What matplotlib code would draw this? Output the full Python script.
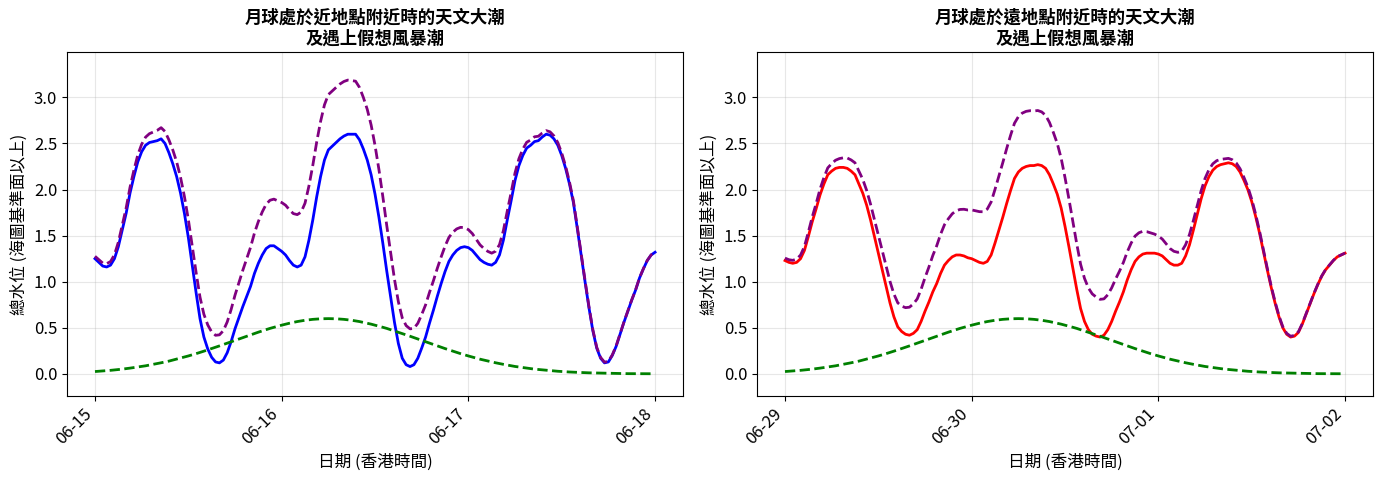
import matplotlib
matplotlib.use("Agg")
import matplotlib.pyplot as plt
import matplotlib.dates as mdates
import numpy as np
import pandas as pd

plt.rcParams['font.family'] = ['Noto Sans CJK TC', 'DejaVu Sans']

# Half-hourly values over three days (145 samples each)
perigee_start = "2024-06-15 00:00"
apogee_start = "2024-06-29 00:00"
step = "30min"

perigee_tide = [
    1.25, 1.21, 1.17, 1.16, 1.18, 1.25, 1.38, 1.56, 1.74, 1.96,
    2.14, 2.30, 2.41, 2.48, 2.51, 2.52, 2.53, 2.55, 2.50, 2.40,
    2.28, 2.14, 1.96, 1.74, 1.48, 1.18, 0.88, 0.60, 0.40, 0.27,
    0.18, 0.13, 0.12, 0.15, 0.23, 0.35, 0.49, 0.61, 0.73, 0.84,
    0.95, 1.09, 1.20, 1.29, 1.36, 1.39, 1.39, 1.36, 1.33, 1.29,
    1.23, 1.18, 1.16, 1.18, 1.27, 1.45, 1.67, 1.92, 2.14, 2.32,
    2.43, 2.47, 2.51, 2.55, 2.58, 2.60, 2.60, 2.60, 2.54, 2.44,
    2.32, 2.16, 1.95, 1.70, 1.42, 1.12, 0.84, 0.56, 0.33, 0.17,
    0.10, 0.08, 0.10, 0.17, 0.28, 0.40, 0.55, 0.69, 0.84, 0.98,
    1.11, 1.22, 1.29, 1.34, 1.37, 1.38, 1.37, 1.34, 1.29, 1.24,
    1.21, 1.19, 1.18, 1.21, 1.29, 1.45, 1.67, 1.88, 2.10, 2.26,
    2.37, 2.45, 2.48, 2.52, 2.53, 2.57, 2.60, 2.59, 2.55, 2.48,
    2.37, 2.23, 2.06, 1.86, 1.58, 1.29, 1.00, 0.72, 0.47, 0.28,
    0.17, 0.12, 0.13, 0.20, 0.30, 0.43, 0.56, 0.68, 0.80, 0.91,
    1.04, 1.14, 1.23, 1.29, 1.32]

apogee_tide = [
    1.23, 1.21, 1.20, 1.21, 1.25, 1.34, 1.49, 1.65, 1.79, 1.94,
    2.06, 2.16, 2.20, 2.23, 2.24, 2.24, 2.23, 2.20, 2.16, 2.06,
    1.96, 1.83, 1.67, 1.49, 1.31, 1.13, 0.95, 0.77, 0.62, 0.51,
    0.46, 0.43, 0.42, 0.44, 0.48, 0.57, 0.68, 0.78, 0.89, 0.98,
    1.09, 1.18, 1.23, 1.27, 1.29, 1.29, 1.28, 1.26, 1.25, 1.23,
    1.21, 1.20, 1.22, 1.29, 1.42, 1.56, 1.70, 1.85, 1.99, 2.12,
    2.19, 2.23, 2.25, 2.26, 2.26, 2.27, 2.26, 2.23, 2.16, 2.06,
    1.95, 1.80, 1.60, 1.38, 1.15, 0.92, 0.71, 0.57, 0.48, 0.43,
    0.41, 0.40, 0.42, 0.48, 0.57, 0.68, 0.78, 0.89, 1.02, 1.13,
    1.22, 1.27, 1.30, 1.31, 1.31, 1.31, 1.30, 1.28, 1.24, 1.20,
    1.18, 1.18, 1.20, 1.28, 1.40, 1.56, 1.73, 1.90, 2.04, 2.14,
    2.21, 2.25, 2.27, 2.28, 2.29, 2.28, 2.25, 2.19, 2.10, 2.00,
    1.87, 1.71, 1.53, 1.33, 1.13, 0.94, 0.77, 0.62, 0.50, 0.43,
    0.40, 0.41, 0.45, 0.54, 0.65, 0.76, 0.87, 0.97, 1.06, 1.13,
    1.18, 1.23, 1.27, 1.29, 1.31]

surge = [
    0.026, 0.029, 0.032, 0.036, 0.039, 0.043, 0.048, 0.052, 0.057, 0.063,
    0.069, 0.075, 0.081, 0.088, 0.096, 0.104, 0.112, 0.121, 0.130, 0.139,
    0.150, 0.160, 0.171, 0.183, 0.195, 0.207, 0.220, 0.233, 0.247, 0.261,
    0.275, 0.289, 0.304, 0.319, 0.334, 0.349, 0.364, 0.379, 0.394, 0.409,
    0.424, 0.438, 0.453, 0.467, 0.480, 0.494, 0.506, 0.518, 0.529, 0.540,
    0.550, 0.559, 0.568, 0.575, 0.582, 0.587, 0.592, 0.595, 0.598, 0.599,
    0.600, 0.599, 0.598, 0.595, 0.592, 0.587, 0.582, 0.575, 0.568, 0.559,
    0.550, 0.540, 0.529, 0.518, 0.506, 0.494, 0.480, 0.467, 0.453, 0.438,
    0.424, 0.409, 0.394, 0.379, 0.364, 0.349, 0.334, 0.319, 0.304, 0.289,
    0.275, 0.261, 0.247, 0.233, 0.220, 0.207, 0.195, 0.183, 0.171, 0.160,
    0.150, 0.139, 0.130, 0.121, 0.112, 0.104, 0.096, 0.088, 0.081, 0.075,
    0.069, 0.063, 0.057, 0.052, 0.048, 0.043, 0.039, 0.036, 0.032, 0.029,
    0.026, 0.024, 0.021, 0.019, 0.017, 0.015, 0.014, 0.012, 0.011, 0.010,
    0.009, 0.008, 0.007, 0.006, 0.005, 0.005, 0.004, 0.003, 0.003, 0.003,
    0.002, 0.002, 0.002, 0.002, 0.001]

titles = ["月球處於近地點附近時的天文大潮\n及遇上假想風暴潮",
          "月球處於遠地點附近時的天文大潮\n及遇上假想風暴潮"]
ylabel = "總水位 (海圖基準面以上)"
xlabel = "日期 (香港時間)"

fig, axes = plt.subplots(1, 2, figsize=(13.84, 4.83), dpi=100)

cases = [(perigee_start, perigee_tide, 'blue'), (apogee_start, apogee_tide, 'red')]
for ax, (start, tide, col), title in zip(axes, cases, titles):
    n = min(len(tide), len(surge))
    t = pd.date_range(start, periods=n, freq=step)
    tide_a = np.array(tide[:n])
    surge_a = np.array(surge[:n])
    ax.plot(t, tide_a, color=col, lw=2)
    ax.plot(t, surge_a, color='green', lw=2, ls='--')
    ax.plot(t, tide_a + surge_a, color='purple', lw=2, ls='--')
    ax.set_title(title, fontsize=12.5, fontweight='bold')
    ax.set_xlabel(xlabel, fontsize=12)
    ax.set_ylabel(ylabel, fontsize=12)
    ax.set_ylim(-0.24, 3.49)
    ax.grid(True, alpha=0.3)
    ax.xaxis.set_major_locator(mdates.DayLocator())
    ax.xaxis.set_major_formatter(mdates.DateFormatter('%m-%d'))
    ax.tick_params(labelsize=12)
    for lab in ax.get_xticklabels():
        lab.set_rotation(45)
        lab.set_ha('right')

fig.subplots_adjust(left=0.0484, right=0.9921, top=0.892, bottom=0.18, wspace=0.12)
fig.savefig("out.png", dpi=100)
